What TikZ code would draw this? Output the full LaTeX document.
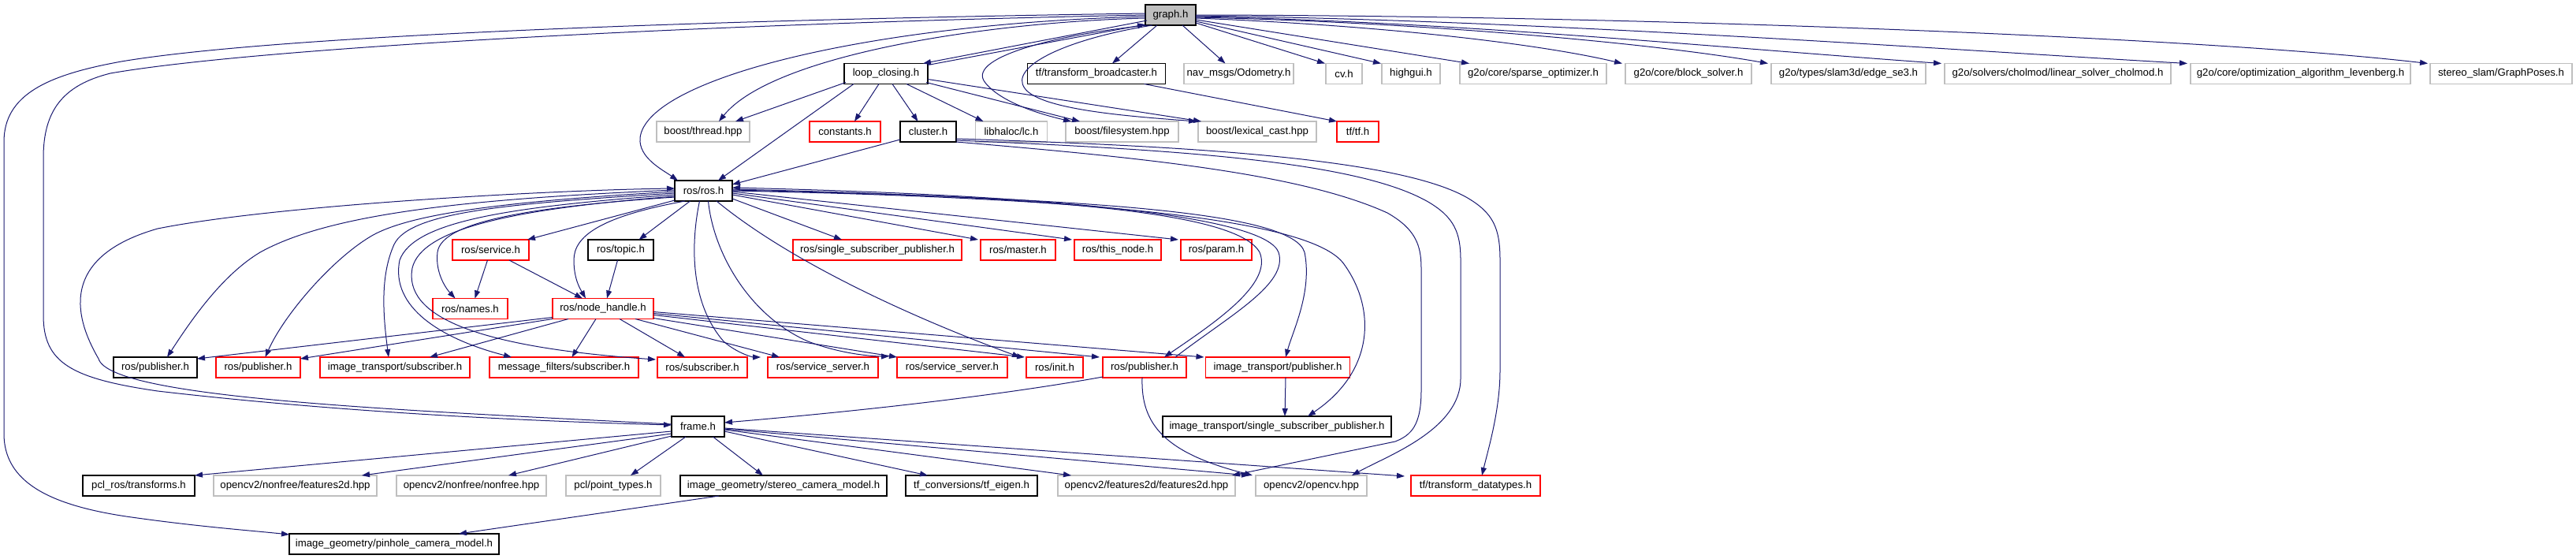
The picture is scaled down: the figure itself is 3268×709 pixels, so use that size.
\documentclass[tikz,border=0pt]{standalone}
\usepackage{fontspec}
\setmainfont{Liberation Sans}
\usetikzlibrary{arrows.meta,calc}
\definecolor{edgec}{HTML}{191970}
\definecolor{grayb}{HTML}{BFBFBF}
\definecolor{redb}{HTML}{FF0000}
\begin{document}
\begin{tikzpicture}[x=1pt,y=-1pt,
 nb/.style={draw, line width=1.1pt, fill=white, minimum height=26pt, inner sep=0pt, outer sep=0pt, font=\fontsize{13.2pt}{15pt}\selectfont, anchor=center},
 bk/.style={nb, draw=black},
 rd/.style={nb, draw=redb},
 gy/.style={nb, draw=grayb},
 e/.style={draw=edgec, line width=1pt, -{Triangle[length=10pt,width=7pt]}}]
\useasboundingbox (0,0) rectangle (3268,709);
% row 0
\node[bk, fill=grayb, minimum width=64pt] (graph) at (1485,19) {graph.h};
% row 1
\node[bk, minimum width=106pt] (loop) at (1124,93.5) {loop\_closing.h};
\node[bk, minimum width=175pt] (tfb) at (1391,93.5) {tf/transform\_broadcaster.h};
\node[gy, minimum width=139pt] (odom) at (1571.5,93.5) {nav\_msgs/Odometry.h};
\node[gy, minimum width=46pt] (cvh) at (1705,93.5) {cv.h};
\node[gy, minimum width=74pt] (highgui) at (1790,93.5) {highgui.h};
\node[gy, minimum width=186pt] (sparse) at (1945,93.5) {g2o/core/sparse\_optimizer.h};
\node[gy, minimum width=160pt] (block) at (2142,93.5) {g2o/core/block\_solver.h};
\node[gy, minimum width=196pt] (edgese3) at (2345,93.5) {g2o/types/slam3d/edge\_se3.h};
\node[gy, minimum width=287pt] (cholmod) at (2610.5,93.5) {g2o/solvers/cholmod/linear\_solver\_cholmod.h};
\node[gy, minimum width=279pt] (leven) at (2918.5,93.5) {g2o/core/optimization\_algorithm\_levenberg.h};
\node[gy, minimum width=180pt] (gposes) at (3173,93.5) {stereo\_slam/GraphPoses.h};
% row 2
\node[gy, minimum width=118pt] (thread) at (892,167) {boost/thread.hpp};
\node[rd, minimum width=90pt] (consts) at (1072,167) {constants.h};
\node[bk, minimum width=71pt] (cluster) at (1177.5,167) {cluster.h};
\node[gy, minimum width=91pt] (lc) at (1283,167) {libhaloc/lc.h};
\node[gy, minimum width=143pt] (fs) at (1423.5,167) {boost/filesystem.hpp};
\node[gy, minimum width=150pt] (lexcast) at (1595,167) {boost/lexical\_cast.hpp};
\node[rd, minimum width=53pt] (tftf) at (1722.5,167) {tf/tf.h};
% row 3
\node[bk, minimum width=73pt] (ros) at (892.5,242) {ros/ros.h};
% row 4
\node[rd, minimum width=97pt] (service) at (622.5,317) {ros/service.h};
\node[bk, minimum width=83pt] (topic) at (787.5,317) {ros/topic.h};
\node[rd, minimum width=214pt] (rssp) at (1113,317) {ros/single\_subscriber\_publisher.h};
\node[rd, minimum width=95pt] (master) at (1291.5,317) {ros/master.h};
\node[rd, minimum width=110pt] (thisnode) at (1418,317) {ros/this\_node.h};
\node[rd, minimum width=90pt] (param) at (1543,317) {ros/param.h};
% row 5
\node[rd, minimum width=95pt] (names) at (596.5,391.5) {ros/names.h};
\node[rd, minimum width=128pt] (nh) at (765,391.5) {ros/node\_handle.h};
% row 6
\node[bk, minimum width=106pt] (pubA) at (197,466) {ros/publisher.h};
\node[rd, minimum width=107pt] (pubB) at (327.5,466) {ros/publisher.h};
\node[rd, minimum width=190pt] (itsub) at (501,466) {image\_transport/subscriber.h};
\node[rd, minimum width=189pt] (mfsub) at (715.5,466) {message\_filters/subscriber.h};
\node[rd, minimum width=114pt] (rsub) at (891,466) {ros/subscriber.h};
\node[rd, minimum width=140pt] (ssA) at (1044,466) {ros/service\_server.h};
\node[rd, minimum width=140pt] (ssB) at (1208,466) {ros/service\_server.h};
\node[rd, minimum width=72pt] (init) at (1338,466) {ros/init.h};
\node[rd, minimum width=106pt] (pubC) at (1452,466) {ros/publisher.h};
\node[rd, minimum width=183pt] (itpub) at (1621,466) {image\_transport/publisher.h};
% row 7
\node[bk, minimum width=67pt] (frame) at (885.5,541) {frame.h};
\node[bk, minimum width=290pt] (itssp) at (1620,541) {image\_transport/single\_subscriber\_publisher.h};
% row 8
\node[bk, minimum width=142pt] (pclros) at (176,616) {pcl\_ros/transforms.h};
\node[gy, minimum width=207pt] (nff2d) at (374.5,616) {opencv2/nonfree/features2d.hpp};
\node[gy, minimum width=190pt] (nfnf) at (598,616) {opencv2/nonfree/nonfree.hpp};
\node[gy, minimum width=120pt] (pclpt) at (778,616) {pcl/point\_types.h};
\node[bk, minimum width=262pt] (stereo) at (994,616) {image\_geometry/stereo\_camera\_model.h};
\node[bk, minimum width=167pt] (tfeigen) at (1232.5,616) {tf\_conversions/tf\_eigen.h};
\node[gy, minimum width=225pt] (f2d) at (1454.5,616) {opencv2/features2d/features2d.hpp};
\node[gy, minimum width=141pt] (opencv) at (1663.5,616) {opencv2/opencv.hpp};
\node[rd, minimum width=164pt] (tfdt) at (1872,616) {tf/transform\_datatypes.h};
% row 9
\node[bk, minimum width=266pt] (pinhole) at (500,690) {image\_geometry/pinhole\_camera\_model.h};

% ---- graph.h edges
\draw[e] ($(graph.south west)+(2,-6)$) -- ($(loop.north east)+(-6,0)$);
\draw[e] ($(loop.north east)+(0,2)$) -- ($(graph.south west)+(0,-1)$);
\draw[e] ($(graph.south)+(-17,0)$) -- ($(tfb.north)+(20,0)$);
\draw[e] ($(graph.south)+(15,0)$) -- ($(odom.north)+(-17,0)$);
\draw[e] ($(graph.south east)+(0,-3)$) -- ($(cvh.north west)+(-1,0)$);
\draw[e] ($(graph.east)+(0,8)$) -- ($(highgui.north west)+(-1,0)$);
\draw[e] ($(graph.east)+(0,6)$) -- ($(sparse.north west)+(12,0)$);
\draw[e] ($(graph.east)+(0,4)$) .. controls (1750,32) and (1950,55) .. ($(block.north west)+(-4,0)$);
\draw[e] ($(graph.east)+(0,3)$) .. controls (1800,28) and (2100,55) .. ($(edgese3.north west)+(-4,0)$);
\draw[e] ($(graph.east)+(0,2)$) .. controls (1850,28) and (2150,58) .. ($(cholmod.north west)+(-4,0)$);
\draw[e] ($(graph.east)+(0,1)$) .. controls (1950,25) and (2500,65) .. ($(leven.north west)+(-4,0)$);
\draw[e] ($(graph.east)+(0,0)$) .. controls (2100,20) and (2800,48) .. ($(gposes.north west)+(-3,0)$);
\draw[e] ($(graph.west)+(0,4)$) .. controls (1250,28) and (980,70) .. ($(thread.north)+(20,0)$);
\draw[e] ($(graph.west)+(0,2)$) .. controls (1100,30) and (820,100) .. (812,175) .. controls (810,200) and (840,215) .. ($(ros.north west)+(4,0)$);
\draw[e] ($(graph.west)+(0,-2)$) .. controls (900,25) and (350,45) .. (154,78) .. controls (60,95) and (5,120) .. (5,180) -- (5,550) .. controls (5,610) and (60,640) .. (160,655) .. controls (250,668) and (320,673) .. ($(pinhole.north west)+(0,1)$);
\draw[e] ($(graph.west)+(0,0)$) .. controls (900,30) and (330,60) .. (140,93) .. controls (80,108) and (55,140) .. (55,200) -- (55,400) .. controls (55,460) and (90,480) .. (200,496) .. controls (450,525) and (700,535) .. ($(frame.west)+(0,-2)$);
\draw[e] ($(graph.south west)+(3,0)$) .. controls (1330,45) and (1225,75) .. (1250,105) .. controls (1270,130) and (1320,145) .. ($(fs.north west)+(7,0)$);
\draw[e] ($(graph.south west)+(9,0)$) .. controls (1350,50) and (1280,85) .. (1300,112) .. controls (1320,140) and (1440,148) .. ($(lexcast.north west)+(-2,0)$);

% ---- loop_closing.h edges
\draw[e] ($(loop.south west)+(2,-2)$) -- ($(thread.north east)+(-18,0)$);
\draw[e] ($(loop.south west)+(12,0)$) -- ($(ros.north east)+(-18,0)$);
\draw[e] ($(loop.south)+(-9,0)$) -- ($(consts.north)+(12,0)$);
\draw[e] ($(loop.south)+(8,0)$) -- ($(cluster.north)+(-13,0)$);
\draw[e] ($(loop.south east)+(-27,0)$) -- ($(lc.north west)+(10,0)$);
\draw[e] ($(loop.south east)+(-2,-2)$) -- ($(fs.north west)+(18,0)$);
\draw[e] ($(loop.east)+(0,7)$) -- ($(lexcast.north west)+(4,0)$);

% ---- transform_broadcaster
\draw[e] ($(tfb.south east)+(-27,0)$) -- (tftf.north west);

% ---- cluster.h
\draw[e] ($(cluster.south west)+(0,-3)$) -- ($(ros.north east)+(0,5)$);
\draw[e] ($(cluster.south east)+(0,-4)$) .. controls (1500,185) and (1770,200) .. (1860,250) .. controls (1895,270) and (1903,290) .. (1903,330) -- (1903,470) .. controls (1903,520) and (1888,570) .. ($(tfdt.north)+(8,0)$);
\draw[e] ($(cluster.south east)+(0,-2)$) .. controls (1500,190) and (1720,205) .. (1810,255) .. controls (1845,275) and (1853,295) .. (1853,330) -- (1853,480) .. controls (1853,545) and (1760,578) .. ($(opencv.north east)+(-19,0)$);
\draw[e] ($(cluster.south east)+(0,0)$) .. controls (1450,200) and (1650,220) .. (1760,270) .. controls (1795,290) and (1803,310) .. (1803,340) -- (1803,495) .. controls (1803,540) and (1790,552) .. (1770,560) -- ($(f2d.north east)+(-4,0)$);

% ---- ros/ros.h edges
\draw[e] ($(ros.south west)+(0,-1)$) -- ($(service.north east)+(-2,0)$);
\draw[e] ($(ros.south)+(-17,0)$) -- ($(topic.north)+(23,0)$);
\draw[e] ($(ros.south east)+(0,-3)$) -- ($(rssp.north)+(-45,0)$);
\draw[e] ($(ros.east)+(0,5)$) -- ($(master.north west)+(-3,0)$);
\draw[e] ($(ros.east)+(0,3)$) -- ($(thisnode.north west)+(-3,0)$);
\draw[e] ($(ros.east)+(0,1)$) -- ($(param.north west)+(-3,0)$);
\draw[e] ($(ros.east)+(0,-2)$) .. controls (1350,250) and (1570,270) .. (1598,320) .. controls (1615,360) and (1540,410) .. ($(pubC.north)+(25,0)$);
\draw[e] ($(pubC.north)+(39,0)$) .. controls (1560,400) and (1635,360) .. (1622,320) .. controls (1605,275) and (1350,248) .. ($(ros.east)+(0,-4)$);
\draw[e] ($(ros.east)+(0,-1)$) .. controls (1400,252) and (1640,270) .. (1655,320) .. controls (1665,370) and (1640,420) .. ($(itpub.north)+(10,0)$);
\draw[e] ($(ros.east)+(0,0)$) .. controls (1450,252) and (1670,285) .. (1705,335) .. controls (1745,390) and (1745,470) .. ($(itssp.north)+(39,0)$);
\draw[e] ($(frame.west)+(0,-3)$) .. controls (500,520) and (140,505) .. (125,455) .. controls (105,420) and (60,330) .. (200,290) .. controls (350,260) and (700,241) .. ($(ros.west)+(0,-3)$);
\draw[e] ($(ros.west)+(0,8)$) .. controls (680,262) and (560,280) .. (555,320) .. controls (552,345) and (565,365) .. ($(names.north)+(-19,0)$);
\draw[e] ($(ros.south west)+(13,0)$) .. controls (760,275) and (728,300) .. (728,330) .. controls (728,355) and (737,368) .. ($(nh.north west)+(42,0)$);
\draw[e] ($(ros.west)+(0,-1)$) .. controls (600,252) and (420,270) .. (330,320) .. controls (280,350) and (240,410) .. ($(pubA.north)+(15,0)$);
\draw[e] ($(ros.west)+(0,1)$) .. controls (650,255) and (520,270) .. (470,300) .. controls (420,330) and (360,400) .. ($(pubB.north)+(9,0)$);
\draw[e] ($(ros.west)+(0,3)$) .. controls (650,258) and (520,268) .. (500,310) .. controls (482,350) and (486,400) .. ($(itsub.north)+(-8,0)$);
\draw[e] ($(ros.west)+(0,5)$) .. controls (650,262) and (525,280) .. (507,330) .. controls (495,390) and (560,430) .. ($(mfsub.north west)+(28,0)$);
\draw[e] ($(ros.west)+(0,7)$) .. controls (650,265) and (535,290) .. (523,340) .. controls (512,400) and (600,440) .. ($(rsub.north west)+(-2,3)$);
\draw[e] ($(ros.south)+(-5,0)$) .. controls (878,300) and (872,380) .. (918,433) .. controls (935,448) and (955,453) .. ($(ssA.north west)+(-9,0)$);
\draw[e] ($(ros.south)+(6,0)$) .. controls (905,320) and (950,400) .. (1025,433) .. controls (1070,450) and (1110,452) .. ($(ssB.north west)+(-10,-1)$);
\draw[e] ($(ros.south east)+(-20,0)$) .. controls (1000,330) and (1150,400) .. ($(init.north west)+(-8,0)$);

% ---- service, topic
\draw[e] ($(service.south)+(-4,0)$) -- ($(names.north)+(6,0)$);
\draw[e] ($(service.south east)+(-25,0)$) -- ($(nh.north west)+(38,0)$);
\draw[e] ($(topic.south)+(-4,0)$) -- ($(nh.north)+(5,0)$);

% ---- node_handle
\draw[e] ($(nh.south west)+(0,-2)$) -- ($(pubA.north east)+(0,2)$);
\draw[e] ($(nh.south west)+(0,0)$) -- ($(pubB.north east)+(0,2)$);
\draw[e] ($(nh.south west)+(20,0)$) -- ($(itsub.north east)+(-51,0)$);
\draw[e] ($(nh.south)+(-9,0)$) -- ($(mfsub.north)+(10,0)$);
\draw[e] ($(nh.south)+(21,0)$) -- ($(rsub.north)+(-22,0)$);
\draw[e] ($(nh.south east)+(-23,0)$) -- ($(ssA.north west)+(15,0)$);
\draw[e] ($(nh.south east)+(0,-1)$) -- (ssB.north west);
\draw[e] ($(nh.east)+(0,8)$) -- ($(init.north west)+(-2,0)$);
\draw[e] ($(nh.east)+(0,6)$) -- ($(pubC.north west)+(-4,0)$);
\draw[e] ($(nh.east)+(0,4)$) -- ($(itpub.north west)+(-2,0)$);

% ---- image_transport/publisher, ros/publisher (red)
\draw[e] ($(itpub.south)+(10,0)$) -- ($(itssp.north)+(10,0)$);
\draw[e] ($(pubC.south west)+(0,-1)$) .. controls (1250,505) and (1050,525) .. ($(frame.east)+(0,-5)$);
\draw[e] ($(pubC.south)+(-3,0)$) .. controls (1447,540) and (1480,575) .. ($(opencv.north west)+(-4,0)$);

% ---- frame.h
\draw[e] ($(frame.west)+(0,6)$) -- (pclros.north east);
\draw[e] ($(frame.south west)+(0,-4)$) -- ($(nff2d.north east)+(-19,0)$);
\draw[e] ($(frame.south west)+(0,-1)$) -- ($(nfnf.north east)+(-48,0)$);
\draw[e] ($(frame.south west)+(18,0)$) -- ($(pclpt.north east)+(-38,0)$);
\draw[e] ($(frame.south)+(19,0)$) -- ($(stereo.north west)+(105,0)$);
\draw[e] ($(frame.east)+(0,6)$) -- ($(tfeigen.north west)+(28,0)$);
\draw[e] ($(frame.east)+(0,4)$) -- ($(f2d.north west)+(17,0)$);
\draw[e] ($(frame.east)+(0,3)$) -- ($(opencv.north west)+(-8,0)$);
\draw[e] ($(frame.east)+(0,2)$) -- ($(tfdt.north west)+(-8,1)$);

% ---- stereo camera model
\draw[e] ($(stereo.south west)+(49,0)$) -- ($(pinhole.north east)+(-51,0)$);
\end{tikzpicture}
\end{document}
